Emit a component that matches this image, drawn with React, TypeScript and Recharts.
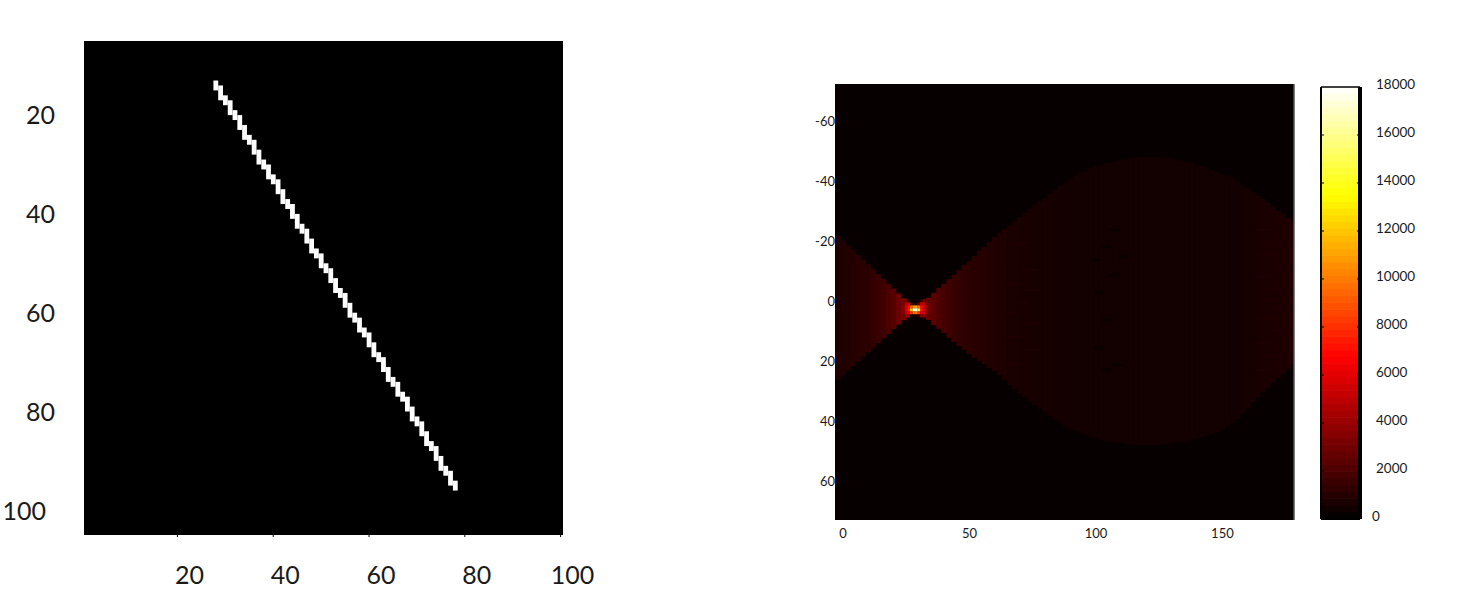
import React from 'react';
import {
  Bar,
  CartesianGrid,
  ComposedChart,
  ReferenceLine,
  Scatter,
  XAxis,
  YAxis,
} from 'recharts';

// left panel: the thin line image, one range per pixel column
const lineColumns = [
  28, 29, 30, 31, 32, 33, 34, 35, 36, 37, 38, 39, 40, 41, 42, 43, 44,
  45, 46, 47, 48, 49, 50, 51, 52, 53, 54, 55, 56, 57, 58, 59, 60, 61, 62,
  63, 64, 65, 66, 67, 68, 69, 70, 71, 72, 73, 74, 75, 76, 77, 78,
];
const lineTopRows = [
  9, 10, 12, 13, 15, 16, 18, 20, 21, 23, 25, 26, 28, 29, 31, 33, 34,
  36, 38, 39, 41, 43, 44, 46, 47, 49, 51, 52, 54, 56, 57, 59, 60, 62, 64,
  65, 67, 69, 70, 72, 73, 75, 77, 78, 80, 82, 83, 85, 87, 88, 90,
];
const lineBottomRows = [
  10, 12, 13, 15, 16, 18, 20, 21, 23, 25, 26, 28, 29, 31, 33, 34, 36,
  38, 39, 41, 43, 44, 46, 47, 49, 51, 52, 54, 56, 57, 59, 60, 62, 64, 65,
  67, 69, 70, 72, 73, 75, 77, 78, 80, 82, 83, 85, 87, 88, 90, 91,
];
const leftTicks = [20, 40, 60, 80, 100];

// right panel: accumulator, one band per angle column
const thetaColumns = [
  -2, 0, 2, 4, 6, 8, 10, 12, 14, 16, 18, 20, 22, 24, 26, 28, 30,
  32, 34, 36, 38, 40, 42, 44, 46, 48, 50,
  52, 54, 56, 58, 60, 62, 64, 66, 68, 70,
  72, 74, 76, 78, 80, 82, 84, 86, 88, 90,
  92, 94, 96, 98, 100, 102, 104, 106, 108, 110,
  112, 114, 116, 118, 120, 122, 124, 126, 128, 130,
  132, 134, 136, 138, 140, 142, 144, 146, 148, 150,
  152, 154, 156, 158, 160, 162, 164, 166, 168, 170,
  172, 174, 176, 178,
];
const bandTop = [
  -21.7, -20.1, -18.5, -16.9, -15.3, -13.7, -12.1, -10.5, -8.9, -7.3, -5.7, -4.1, -2.5, -0.9, 0.7, 1.3, 1.0,
  0.3, -1, -2.7, -4.3, -5.7, -7.3, -8.7, -10.3, -12, -13.3,
  -15, -16.7, -18, -19.7, -21.3, -22.7, -24, -25.3, -26.7, -28,
  -29.3, -30.7, -32, -33.3, -34.3, -35.7, -37, -38.3, -39.3, -40.7,
  -41.7, -42.7, -43.3, -44.3, -45, -45.3, -46, -46.3, -46.7, -47,
  -47.3, -47.7, -47.7, -48, -48, -48, -48, -47.7, -47.7, -47.3,
  -47, -46.7, -46.3, -46, -45.3, -45, -44.3, -43.7, -43, -42.3,
  -41.7, -41, -40, -38.7, -37.7, -36.3, -35, -34, -32.7, -31.3,
  -30, -29, -27.7, -26.7,
];
const bandBottom = [
  26.3, 24.8, 23.2, 21.7, 20.2, 18.6, 17.1, 15.6, 14, 12.5, 11, 9.4, 7.9, 6.4, 4.9, 4, 4.4,
  5, 6.3, 8, 9.3, 10.7, 12.3, 13.7, 15, 16.3, 17.7,
  19, 20, 21, 22.3, 23.3, 24.7, 26.3, 28, 29.3, 30.7,
  32, 33.3, 34.7, 36, 37, 38.3, 39.7, 40.7, 41.7, 42.7,
  43.3, 44, 44.7, 45.3, 45.7, 46.3, 46.7, 47, 47.3, 47.3,
  47.7, 47.7, 48, 48, 48, 48, 48, 47.7, 47.7, 47.3,
  47, 47, 46.7, 46.3, 46, 45.3, 45, 44.3, 43.7, 43,
  42, 40.7, 39.3, 37.7, 35.7, 33.7, 32, 30.3, 29, 27.3,
  25.7, 24.3, 22.7, 21,
];
const bandVotes = [
  850, 880, 920, 960, 1020, 1100, 1200, 1330, 1500, 1700, 1950, 2300, 2800, 3400, 4000, 1200, 1200,
  3600, 3000, 2500, 2100, 1850, 1650, 1500, 1350, 1250, 1150,
  1050, 1000, 950, 900, 850, 800, 760, 720, 690, 660,
  640, 620, 600, 590, 580, 570, 560, 550, 540, 530,
  520, 510, 500, 500, 500, 500, 500, 500, 500, 500,
  500, 500, 500, 500, 500, 500, 500, 500, 500, 500,
  500, 500, 500, 500, 500, 500, 500, 500, 500, 500,
  510, 520, 540, 560, 590, 620, 650, 680, 700, 720,
  740, 750, 760, 770,
];

// brighter dashes on the flanks of the band
const streakThetas = [
  166, 170, 167.6, 171.5, 166, 171.5, 168, 171.5, 167, 171.5, 166, 170, 166,
  70, 66, 74, 67, 75, 70, 66, 75, 68, 75, 67,
];
const streakRhos = [
  -23.7, -19.3, -15.3, -11.4, -8, -3.7, -0.3, 2.4, 5.8, 9.7, 14.1, 18.5, 23,
  -19.3, -14.9, -10.3, -5.9, -3.7, 0.8, 4.1, 7.4, 11.9, 16.3, 20.8,
];
// darker specks in the middle of the band
const speckThetas = [107, 101.6, 104, 101, 109, 104, 107, 104, 111, 100];
const speckRhos = [-8.7, -2.7, 6.3, 15.6, 21.3, 23, -23.7, -18, -14.9, -13.7];

// peak of the accumulator
const peakThetas = [24, 25, 26, 27, 28, 29, 30, 31, 32, 33, 34];
const peakRhos = [0, 1, 2, 3, 4, 5];
const peakVotes = [
  [2800, 3200, 1500, 300, 200, 200, 300, 1500, 3200, 2800, 2000],
  [3200, 4800, 5500, 2500, 1200, 1200, 2500, 5500, 4800, 3200, 2600],
  [3600, 5800, 7000, 9500, 10500, 11000, 9500, 7000, 5800, 3600, 2900],
  [3600, 5800, 7500, 12000, 17000, 18000, 14000, 7500, 5800, 3600, 2900],
  [3300, 5500, 6000, 8000, 9500, 10000, 8000, 6000, 5500, 3300, 2700],
  [2700, 4000, 3500, 1000, 500, 500, 1000, 3500, 4000, 2700, 2300],
];

const rhoTicks = [-60, -40, -20, 0, 20, 40, 60];
const thetaTicks = [0, 50, 100, 150];

const colorLevels = [
  141, 422, 703, 984, 1266, 1547, 1828, 2109, 2391, 2672,
  2953, 3234, 3516, 3797, 4078, 4359, 4641, 4922, 5203, 5484,
  5766, 6047, 6328, 6609, 6891, 7172, 7453, 7734, 8016, 8297,
  8578, 8859, 9141, 9422, 9703, 9984, 10266, 10547, 10828, 11109,
  11391, 11672, 11953, 12234, 12516, 12797, 13078, 13359, 13641, 13922,
  14203, 14484, 14766, 15047, 15328, 15609, 15891, 16172, 16453, 16734,
  17016, 17297, 17578, 17859,
];
const colorTicks = [0, 2000, 4000, 6000, 8000, 10000, 12000, 14000, 16000, 18000];

const FONT = 'Lato, "Noto Sans", sans-serif';
const TEXT = '#1a1a1a';

const hot = (value: number) => {
  const t = Math.max(0, Math.min(1, value / 18000));
  const r = Math.min(1, t / 0.375);
  const g = Math.max(0, Math.min(1, (t - 0.375) / 0.375));
  const b = Math.max(0, (t - 0.75) / 0.25);
  return `rgb(${Math.round(r * 255)},${Math.round(g * 255)},${Math.round(b * 255)})`;
};

const lineData = lineColumns.map((column, i) => ({
  column,
  rows: [lineTopRows[i] - 0.5, lineBottomRows[i] + 0.5],
}));
const bandData = thetaColumns.map((theta, i) => ({
  theta,
  span: [bandTop[i], bandBottom[i]],
  votes: bandVotes[i],
}));
const peakData = peakRhos.flatMap((rho, r) =>
  peakThetas.map((theta, c) => ({ theta, rho, votes: peakVotes[r][c] })),
);
const streakData = streakThetas.map((theta, i) => ({ theta, rho: streakRhos[i] }));
const speckData = speckThetas.map((theta, i) => ({ theta, rho: speckRhos[i] }));
const levelData = colorLevels.map((level) => ({ level, span: 1 }));

function LeftXTick({ x, y, payload }: any) {
  return (
    <text x={x + 12} y={y + 35} textAnchor="middle" dominantBaseline="central" fontFamily={FONT} fontSize={25} fill={TEXT}>
      {payload.value}
    </text>
  );
}

function LeftYTick({ y, payload }: any) {
  return (
    <text
      x={payload.value === 100 ? 46 : 55}
      y={y - 23}
      textAnchor="end"
      dominantBaseline="central"
      fontFamily={FONT}
      fontSize={25}
      fill={TEXT}
    >
      {payload.value}
    </text>
  );
}

function RhoTick({ x, y, payload }: any) {
  return (
    <text x={x + 8} y={y} textAnchor="end" dominantBaseline="central" fontFamily={FONT} fontSize={13} fill={TEXT}>
      {payload.value}
    </text>
  );
}

function ThetaTick({ x, y, payload }: any) {
  return (
    <text x={x} y={y + 5} textAnchor="middle" dominantBaseline="central" fontFamily={FONT} fontSize={13} fill={TEXT}>
      {payload.value}
    </text>
  );
}

function ColorTick({ x, y, payload }: any) {
  const axisX = x - 8;
  const showMarks = payload.value !== 0 && payload.value !== 18000;
  return (
    <g>
      {showMarks && <line x1={axisX - 39} x2={axisX - 36} y1={y} y2={y} stroke="#000" />}
      {showMarks && <line x1={axisX - 3} x2={axisX} y1={y} y2={y} stroke="#000" />}
      <text
        x={payload.value === 0 ? axisX + 12 : axisX + 16}
        y={y - 3}
        dominantBaseline="central"
        fontFamily={FONT}
        fontSize={13.5}
        fill={TEXT}
      >
        {payload.value}
      </text>
    </g>
  );
}

function PeakCell({ cx, cy, payload }: any) {
  return <rect x={cx - 1.3} y={cy - 1.55} width={2.6} height={3.1} fill={hot(payload.votes)} />;
}

function StreakCell({ cx, cy }: any) {
  return <rect x={cx - 8} y={cy - 1.25} width={16} height={2.5} fill={hot(800)} />;
}

function SpeckCell({ cx, cy }: any) {
  return <rect x={cx - 5} y={cy - 1} width={10} height={2} fill={hot(230)} />;
}

// recharts truncates bar widths on number axes, so the cell width is set here.
// the y axes are reversed, so range bars come with a negative height
function LinePixel({ x, y, width, height }: any) {
  return (
    <rect x={x + width / 2 - 2.4} y={Math.min(y, y + height)} width={4.8} height={Math.abs(height)} fill="#fff" />
  );
}

function BandColumn({ x, y, width, height, payload }: any) {
  return (
    <rect
      x={x + width / 2 - 2.8}
      y={Math.min(y, y + height)}
      width={5.6}
      height={Math.abs(height)}
      fill={hot(payload.votes)}
    />
  );
}

function LevelRow({ x, y, width, height, payload }: any) {
  return <rect x={x} y={y + height / 2 - 3.7} width={width} height={7.4} fill={hot(payload.level)} />;
}

export default function App() {
  return (
    <div style={{ position: 'absolute', left: 0, top: 0, width: 1475, height: 603, background: '#fff' }}>
      <div style={{ position: 'absolute', left: 0, top: 0 }}>
        <ComposedChart width={600} height={600} data={lineData} margin={{ top: 41, right: 0, bottom: 0, left: 0 }}>
          <CartesianGrid fill="#000" stroke="none" horizontal={false} vertical={false} />
          <XAxis
            dataKey="column"
            type="number"
            domain={[0.5, 100.5]}
            ticks={leftTicks}
            height={65}
            axisLine={false}
            tickSize={2}
            tickLine={{ stroke: '#000' }}
            tick={<LeftXTick />}
          />
          <YAxis
            type="number"
            domain={[0.5, 100.5]}
            reversed
            ticks={leftTicks}
            width={84}
            axisLine={false}
            tickLine={false}
            tick={<LeftYTick />}
          />
          <YAxis
            yAxisId="marks"
            orientation="right"
            type="number"
            domain={[0.5, 100.5]}
            reversed
            ticks={leftTicks}
            width={37}
            axisLine={false}
            tickSize={2}
            tickLine={{ stroke: '#000' }}
            tick={() => <g />}
          />
          <Bar dataKey="rows" fill="#fff" shape={<LinePixel />} isAnimationActive={false} />
        </ComposedChart>
      </div>

      <div style={{ position: 'absolute', left: 780, top: 0 }}>
        <ComposedChart width={524} height={560} data={bandData} margin={{ top: 84, right: 10, bottom: 0, left: 0 }}>
          <CartesianGrid fill={hot(190)} stroke="none" horizontal={false} vertical={false} />
          <XAxis
            dataKey="theta"
            type="number"
            domain={[-3.16, 178.3]}
            allowDataOverflow
            ticks={thetaTicks}
            height={40}
            axisLine={false}
            tickLine={false}
            tick={<ThetaTick />}
          />
          <YAxis
            type="number"
            domain={[-72.3, 73]}
            reversed
            ticks={rhoTicks}
            width={55}
            axisLine={false}
            tickLine={false}
            tick={<RhoTick />}
          />
          <Bar dataKey="span" shape={<BandColumn />} isAnimationActive={false} />
          <Scatter data={streakData} dataKey="rho" shape={<StreakCell />} isAnimationActive={false} />
          <Scatter data={speckData} dataKey="rho" shape={<SpeckCell />} isAnimationActive={false} />
          <Scatter data={peakData} dataKey="rho" shape={<PeakCell />} isAnimationActive={false} />
          <ReferenceLine x={178.3} stroke="#555" strokeWidth={1.5} />
        </ComposedChart>
      </div>

      <div style={{ position: 'absolute', left: 1300, top: 0 }}>
        <ComposedChart
          layout="vertical"
          width={175}
          height={560}
          data={levelData}
          margin={{ top: 87, right: 0, bottom: 41, left: 21 }}
        >
          <XAxis type="number" domain={[0, 1]} hide />
          <YAxis
            dataKey="level"
            type="number"
            orientation="right"
            reversed
            domain={[0, 18000]}
            ticks={colorTicks}
            width={115}
            axisLine={false}
            tickLine={false}
            tick={<ColorTick />}
          />
          <Bar dataKey="span" shape={<LevelRow />} isAnimationActive={false} />
          <ReferenceLine x={0} stroke="#000" strokeWidth={2} />
          <ReferenceLine x={1} stroke="#000" strokeWidth={4} />
          <ReferenceLine y={18000} stroke="#000" strokeWidth={1.5} />
          <ReferenceLine y={0} stroke="#000" strokeWidth={2} />
        </ComposedChart>
      </div>
    </div>
  );
}
